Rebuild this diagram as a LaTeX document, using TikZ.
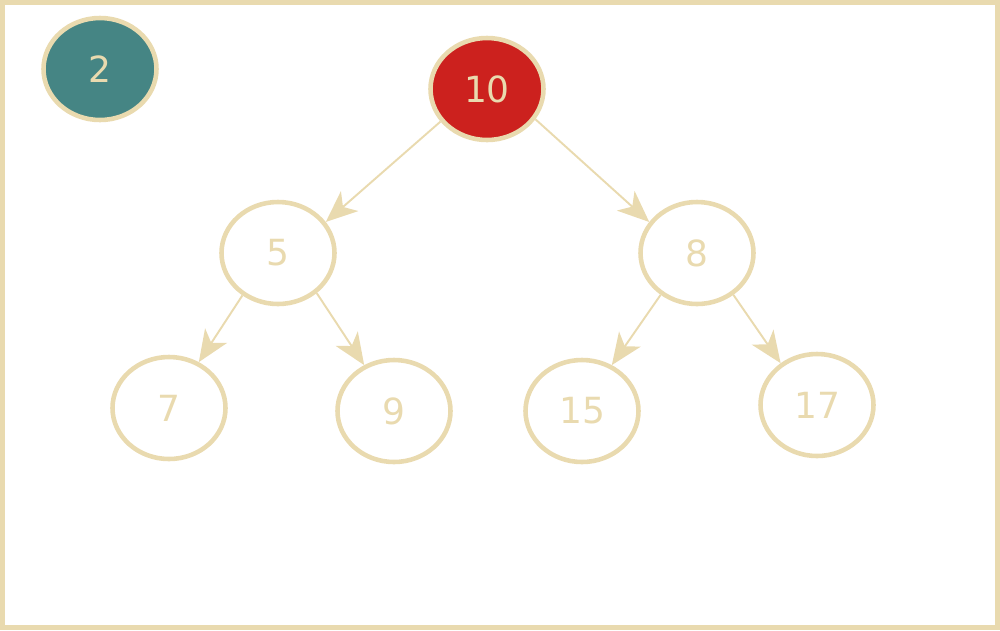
\documentclass[tikz,border=0pt]{standalone}
\usepackage{fontspec}
\setmainfont{DejaVu Sans}
\usetikzlibrary{arrows.meta,shapes.geometric}
\definecolor{cream}{HTML}{E9DAAF}
\definecolor{teal}{HTML}{458584}
\definecolor{redfill}{HTML}{CC211E}
\begin{document}
\begin{tikzpicture}[x=0.02cm,y=-0.02cm,
  heapnode/.style={ellipse,draw=cream,line width=2.6pt,minimum width=113*0.02cm,
    minimum height=102*0.02cm,inner sep=0pt,text=cream,font=\fontsize{20.5}{24}\selectfont},
  link/.style={draw=cream,line width=1.1pt,-{Stealth[length=18pt,width=15pt,inset=5pt]}}]
  % frame
  \useasboundingbox (0,0) rectangle (1000,630);
  \draw[cream,line width=3pt] (2.5,2.5) rectangle (997.5,627.5);
  % nodes
  \node[heapnode,fill=teal] (n2) at (100,69) {2};
  \node[heapnode,fill=redfill] (n10) at (487,89) {10};
  \node[heapnode] (n5) at (278,253) {5};
  \node[heapnode] (n8) at (697,253) {8};
  \node[heapnode] (n7) at (169,408) {7};
  \node[heapnode] (n9) at (394,411) {9};
  \node[heapnode] (n15) at (582,411) {15};
  \node[heapnode] (n17) at (817,405) {17};
  % connectors
  \draw[link] (n10.215) -- (n5.33);
  \draw[link] (n10.328) -- (n8.147);
  \draw[link] (n5.230) -- (n7.57);
  \draw[link] (n5.314) -- (n9.123);
  \draw[link] (n8.229) -- (n15.57);
  \draw[link] (n8.311) -- (n17.131);
\end{tikzpicture}
\end{document}
